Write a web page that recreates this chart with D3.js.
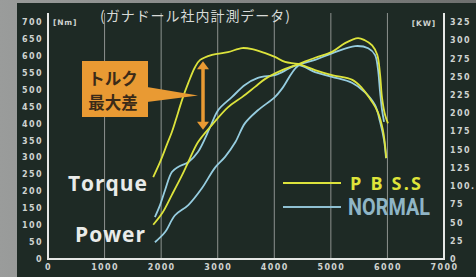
<!DOCTYPE html>
<html>
<head>
<meta charset="utf-8">
<script src="https://cdn.jsdelivr.net/npm/d3@7"></script>
<style>
  body { margin: 0; background: #7a7c7b; }
  svg { display: block; }
</style>
</head>
<body>
<div id="chart"></div>
<script>
// rpm / value pairs
var pbssTorqueRpm = [1860, 1980, 2100, 2190, 2260, 2370, 2480, 2600, 2690, 2900, 3180, 3430, 3610, 3840, 4010, 4190, 4420, 4720, 5020, 5380, 5550, 5730, 5830, 5920, 5980];
var pbssTorque    = [242, 286, 337, 375, 411, 470, 520, 567, 588, 603, 611, 623, 620, 608, 597, 582, 576, 558, 543, 529, 505, 464, 434, 381, 298];

var normalTorqueRpm = [1890, 1980, 2070, 2190, 2300, 2480, 2650, 2860, 3010, 3250, 3480, 3710, 4010, 4140, 4420, 4720, 5020, 5380, 5600, 5780, 5870, 5940, 5975];
var normalTorque    = [124, 159, 204, 257, 272, 286, 316, 387, 440, 478, 514, 535, 543, 552, 573, 552, 538, 520, 493, 455, 405, 351, 298];

var pbssPowerRpm = [1860, 2020, 2190, 2370, 2480, 2650, 2900, 3180, 3430, 3660, 3840, 4140, 4420, 4720, 5020, 5250, 5480, 5600, 5730, 5820, 5870, 5905, 5960, 6010];
var pbssPower    = [47, 63, 88, 115, 133, 160, 184, 208, 222, 236, 247, 259, 267, 276, 284, 296, 303, 300, 293, 280, 253, 221, 197, 186];

var normalPowerRpm = [1890, 2070, 2245, 2480, 2720, 2950, 3130, 3310, 3480, 3710, 4010, 4140, 4420, 4720, 5020, 5430, 5660, 5780, 5830, 5870, 5905, 5940];
var normalPower    = [23, 37, 60, 74, 97, 125, 140, 160, 186, 204, 222, 234, 265, 273, 282, 292, 289, 280, 262, 229, 204, 188];

var rpmTicks = [0, 1000, 2000, 3000, 4000, 5000, 6000, 7000];
var gridRpm = [1000, 2000, 3000, 4000, 5000, 6000];
var torqueTicks = d3.range(0, 701, 50);
var powerTicks = d3.range(0, 326, 25);

var title = "(ガナドール社内計測データ)";
var boxLines = ["トルク", "最大差"];
// the "max torque difference" arrow: rpm, from / to torque
var diffRpm = 2740, diffTop = 584, diffBottom = 382;

var width = 476, height = 277;
var x0 = 48, x1 = 444, yBottom = 259, yTop = 22;

var svg = d3.select("#chart").append("svg")
  .attr("width", width)
  .attr("height", height);

var defs = svg.append("defs");
var grad = defs.append("linearGradient").attr("id", "side").attr("x1", 0).attr("x2", 1);
grad.append("stop").attr("offset", "0%").attr("stop-color", "#9a9c9b");
grad.append("stop").attr("offset", "100%").attr("stop-color", "#6e706f");

svg.append("rect").attr("width", width).attr("height", height).attr("fill", "url(#side)");
svg.append("rect").attr("x", 17).attr("y", 3).attr("width", width - 17).attr("height", height - 3)
  .attr("fill", "#1e2a25");

var x = d3.scaleLinear().domain([0, 7000]).range([x0, x1]);
var yT = d3.scaleLinear().domain([0, 700]).range([yBottom, yTop]);
var yP = d3.scaleLinear().domain([0, 325]).range([yBottom, yTop]);

// grid
svg.append("g").selectAll("line")
  .data(gridRpm)
  .enter()
  .append("line")
  .attr("x1", function(d) { return x(d); })
  .attr("x2", function(d) { return x(d); })
  .attr("y1", 13)
  .attr("y2", yBottom)
  .attr("stroke", "#8d928f")
  .attr("stroke-width", 1);

// frame axes
svg.append("line").attr("x1", x0).attr("x2", x0).attr("y1", 13).attr("y2", yBottom + 1)
  .attr("stroke", "#e6e8e6").attr("stroke-width", 2);
svg.append("line").attr("x1", x1).attr("x2", x1).attr("y1", 13).attr("y2", yBottom + 1)
  .attr("stroke", "#e6e8e6").attr("stroke-width", 2);
svg.append("line").attr("x1", x0 - 1).attr("x2", x1 + 1).attr("y1", yBottom).attr("y2", yBottom)
  .attr("stroke", "#e6e8e6").attr("stroke-width", 2);

var tickFont = "DejaVu Sans, sans-serif";

// left ticks
var leftAxis = svg.append("g")
  .attr("transform", "translate(" + (x0 - 5) + ",0)")
  .call(d3.axisLeft(yT).tickValues(torqueTicks).tickSize(0).tickPadding(0));
leftAxis.select(".domain").remove();
leftAxis.selectAll("text")
  .attr("fill", "#cfd3d0").attr("font-family", tickFont).attr("font-weight", "bold")
  .attr("font-size", 8).attr("letter-spacing", 1.4);

// right ticks
var rightAxis = svg.append("g")
  .attr("transform", "translate(" + (x1 + 6) + ",0)")
  .call(d3.axisRight(yP).tickValues(powerTicks).tickSize(0).tickPadding(0));
rightAxis.select(".domain").remove();
rightAxis.selectAll("text")
  .attr("fill", "#cfd3d0").attr("font-family", tickFont).attr("font-weight", "bold")
  .attr("font-size", 8).attr("letter-spacing", 1.4)
  .text(function(d) { return d === 100 ? "100." : d; });

// bottom ticks
var bottomAxis = svg.append("g")
  .attr("transform", "translate(0," + (yBottom + 5) + ")")
  .call(d3.axisBottom(x).tickValues(rpmTicks).tickSize(0).tickPadding(0).tickFormat(d3.format("d")));
bottomAxis.select(".domain").remove();
bottomAxis.selectAll("text")
  .attr("fill", "#cfd3d0").attr("font-family", tickFont).attr("font-weight", "bold")
  .attr("font-size", 8).attr("letter-spacing", 1.4);

// units
svg.append("text").attr("x", 53).attr("y", 25).text("[Nm]")
  .attr("fill", "#cfd3d0").attr("font-family", tickFont).attr("font-weight", "bold")
  .attr("font-size", 7.5).attr("letter-spacing", 0.8);
svg.append("text").attr("x", 436).attr("y", 26).attr("text-anchor", "end").text("[KW]")
  .attr("fill", "#cfd3d0").attr("font-family", tickFont).attr("font-weight", "bold")
  .attr("font-size", 7.5).attr("letter-spacing", 0.8);

// title
svg.append("text").attr("x", 100).attr("y", 21).text(title)
  .attr("fill", "#d8dbd8").attr("font-family", "Noto Sans CJK JP, sans-serif")
  .attr("font-size", 14).attr("textLength", 190);

// curves
var lineT = d3.line()
  .x(function(d) { return x(d[0]); })
  .y(function(d) { return yT(d[1]); })
  .curve(d3.curveCatmullRom);
var lineP = d3.line()
  .x(function(d) { return x(d[0]); })
  .y(function(d) { return yP(d[1]); })
  .curve(d3.curveCatmullRom);

var yellow = "#dce33c", blue = "#96cde0";

var series = [
  { rpm: normalPowerRpm, v: normalPower, line: lineP, color: blue },
  { rpm: normalTorqueRpm, v: normalTorque, line: lineT, color: blue },
  { rpm: pbssPowerRpm, v: pbssPower, line: lineP, color: yellow },
  { rpm: pbssTorqueRpm, v: pbssTorque, line: lineT, color: yellow }
];

svg.append("g").selectAll("path")
  .data(series)
  .enter()
  .append("path")
  .attr("fill", "none")
  .attr("stroke", function(d) { return d.color; })
  .attr("stroke-width", 1.8)
  .attr("stroke-linejoin", "round")
  .attr("d", function(d) {
    return d.line(d.rpm.map(function(r, i) { return [r, d.v[i]]; }));
  });

// annotation box
var orange = "#e99a33";
svg.append("rect").attr("x", 82).attr("y", 61).attr("width", 66).attr("height", 56).attr("fill", orange);
var ax = x(diffRpm);
var tipY = (yT(diffTop) + yT(diffBottom)) / 2;
svg.append("polygon")
  .attr("points", [[147, 87], [ax - 5, tipY], [147, 102]].join(" "))
  .attr("fill", orange);
boxLines.forEach(function(t, i) {
  svg.append("text").attr("x", 113).attr("y", 85 + i * 24).attr("text-anchor", "middle").text(t)
    .attr("fill", "#3b2a18").attr("font-family", "Noto Sans CJK JP, sans-serif")
    .attr("font-weight", "bold").attr("font-size", 16.5);
});

// double arrow
var aTop = yT(diffTop), aBot = yT(diffBottom);
svg.append("line").attr("x1", ax).attr("x2", ax).attr("y1", aTop + 6).attr("y2", aBot - 6)
  .attr("stroke", orange).attr("stroke-width", 3.5);
svg.append("polygon")
  .attr("points", [[ax - 6, aTop + 8], [ax, aTop], [ax + 6, aTop + 8]].join(" "))
  .attr("fill", orange);
svg.append("polygon")
  .attr("points", [[ax - 6, aBot - 8], [ax, aBot], [ax + 6, aBot - 8]].join(" "))
  .attr("fill", orange);

// curve labels
svg.append("text").attr("x", 68).attr("y", 191).text("Torque")
  .attr("fill", "#e9ebe9").attr("font-family", "Open Sans, sans-serif")
  .attr("font-weight", "bold").attr("font-size", 21).attr("textLength", 79);
svg.append("text").attr("x", 75).attr("y", 242).text("Power")
  .attr("fill", "#e9ebe9").attr("font-family", "Open Sans, sans-serif")
  .attr("font-weight", "bold").attr("font-size", 21).attr("textLength", 70);

// legend
svg.append("line").attr("x1", 283).attr("x2", 341).attr("y1", 183).attr("y2", 183)
  .attr("stroke", yellow).attr("stroke-width", 2.2);
svg.append("line").attr("x1", 283).attr("x2", 341).attr("y1", 207).attr("y2", 207)
  .attr("stroke", "#8fc0d2").attr("stroke-width", 2.2);
svg.append("text").attr("x", 350).attr("y", 190).text("P B S.S")
  .attr("fill", "#dfe43a").attr("font-family", "Open Sans, sans-serif")
  .attr("font-weight", "bold").attr("font-size", 18).attr("letter-spacing", 2.2);
svg.append("text").attr("x", 348).attr("y", 215).text("NORMAL")
  .attr("fill", "#8fb5c6").attr("font-family", "Roboto, sans-serif")
  .attr("font-weight", "bold").attr("font-size", 23).attr("textLength", 82)
  .attr("lengthAdjust", "spacingAndGlyphs");
</script>
</body>
</html>
